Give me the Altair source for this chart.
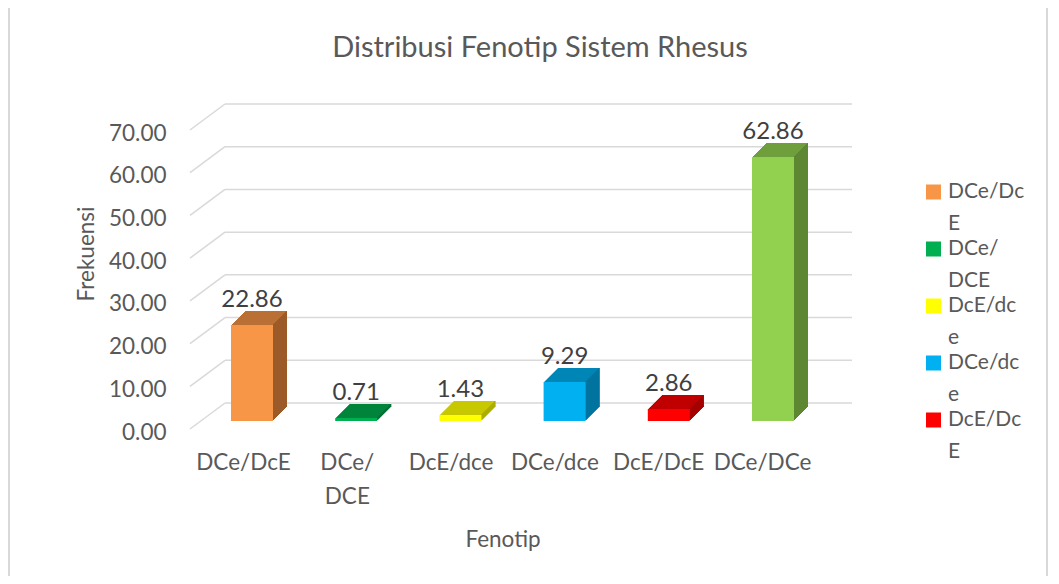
import altair as alt
import pandas as pd

categories = ["DCe/DcE", "DCe/DCE", "DcE/dce", "DCe/dce", "DcE/DcE", "DCe/DCe"]
values = [22.86, 0.71, 1.43, 9.29, 2.86, 62.86]
front_colors = ["#F79646", "#00B050", "#FFFF00", "#00B0F0", "#FF0000", "#92D050"]
top_colors = ["#BA6F35", "#00843C", "#C8C800", "#0086B6", "#C00000", "#6F9E3D"]
side_colors = ["#9C5A28", "#006D32", "#A6A600", "#006F97", "#A00000", "#5E8733"]
axis_labels = ["DCe/DcE", "DCe/\nDCE", "DcE/dce", "DCe/dce", "DcE/DcE", "DCe/DCe"]
legend_labels = ["DCe/Dc\nE", "DCe/\nDCE", "DcE/dc\ne", "DCe/dc\ne", "DcE/Dc\nE"]
y_ticks = [0, 10, 20, 30, 40, 50, 60, 70]

FONT = "Lato"
GREY = "#595959"
FS = 22.5

bars = pd.DataFrame({"cat": categories, "value": values, "front": front_colors,
                     "top": top_colors, "side": side_colors})
grid = pd.DataFrame({"tick": y_ticks})
legend_df = pd.DataFrame({"lab": legend_labels, "color": front_colors[:5]})
axis_df = pd.DataFrame({"lab": axis_labels})

xs = alt.Scale(domain=categories, range=[9.9, 635.1], paddingInner=0, paddingOuter=0)
ys = alt.Scale(domain=[0, 70], range=[317, 23], nice=False, zero=True)     # front plane (bars)
gs = alt.Scale(domain=[0, 70], range=[299, 0], nice=False, zero=True)      # back wall (grid)

X = alt.X("cat:N", scale=xs, axis=None)
Y = alt.Y("value:Q", scale=ys, axis=None)

layers = []

# outer frame
frame = alt.Chart(pd.DataFrame({"a": [0]})).mark_rect(
    fillOpacity=0, stroke="#D9D9D9", strokeWidth=2
).encode(x=alt.value(-181), x2=alt.value(857), y=alt.value(-97), y2=alt.value(496))
layers.append(frame)

# back gridlines
hgrid = alt.Chart(grid).mark_rule(color="#D9D9D9", strokeWidth=1.5).encode(
    x=alt.value(35), x2=alt.value(662),
    y=alt.Y("tick:Q", scale=gs, axis=None),
)
layers.append(hgrid)

# diagonal side-wall lines, carrying the value axis
dgrid = alt.Chart(grid).mark_rule(color="#D9D9D9", strokeWidth=1.5, yOffset=26).encode(
    x=alt.value(0), x2=alt.value(35),
    y=alt.Y("tick:Q", scale=gs, axis=alt.Axis(
        values=y_ticks, format=".2f", labelOffset=29, labelPadding=24, domain=False,
        ticks=False, grid=False, labelFontSize=FS, labelColor=GREY, labelFont=FONT,
        title="Frekuensi", titleFontSize=FS, titleFontWeight="normal", titleColor=GREY,
        titleFont=FONT, titlePadding=10)),
    y2="tick:Q",
)
layers.append(dgrid)

DEPTH = 14
HALF = 21
# extrusion (top face colour)
for i in range(DEPTH, 0, -1):
    layers.append(alt.Chart(bars).mark_bar(width=2 * HALF, xOffset=i, yOffset=-i, y2Offset=-i).encode(
        x=X, y=Y, y2=alt.Y2(datum=0), color=alt.Color("top:N", scale=None)))
# side face
for j in range(1, DEPTH + 1):
    layers.append(alt.Chart(bars).mark_bar(width=1, xOffset=HALF + j - 0.5, yOffset=-j, y2Offset=-j).encode(
        x=X, y=Y, y2=alt.Y2(datum=0), color=alt.Color("side:N", scale=None)))
# front face
layers.append(alt.Chart(bars).mark_bar(width=2 * HALF).encode(
    x=X, y=Y, y2=alt.Y2(datum=0), color=alt.Color("front:N", scale=None)))

# value labels
layers.append(alt.Chart(bars).mark_text(
    dy=-18, baseline="alphabetic", fontSize=24, font=FONT, color="#404040"
).encode(x=X, y=Y, text=alt.Text("value:Q", format=".2f")))

# category axis
layers.append(alt.Chart(axis_df).mark_point(opacity=0).encode(
    x=alt.X("lab:N", sort=axis_labels,
            scale=alt.Scale(type="point", domain=axis_labels, range=[53, 572], padding=0),
            axis=alt.Axis(orient="bottom", labelExpr="split(datum.label, '\\n')",
                          labelLineHeight=34, labelPadding=21, labelAngle=0,
                          domain=False, ticks=False, grid=False,
                          labelFontSize=FS, labelColor=GREY, labelFont=FONT,
                          title="Fenotip", titleFontSize=FS, titleFontWeight="normal",
                          titleColor=GREY, titleFont=FONT, titlePadding=21)),
    y=alt.value(0),
))

# legend
LY = alt.Y("lab:N", scale=alt.Scale(type="point", domain=legend_labels, range=[88, 316], padding=0), axis=None)
layers.append(alt.Chart(legend_df).mark_square(size=225, opacity=1).encode(
    x=alt.value(743.5), y=LY, color=alt.Color("color:N", scale=None)))
layers.append(alt.Chart(legend_df).mark_text(
    align="left", baseline="middle", lineBreak="\n", lineHeight=32,
    fontSize=21, font=FONT, color=GREY
).encode(x=alt.value(758), y=LY, text="lab:N"))

chart = alt.layer(*layers).resolve_scale(x="independent", y="independent").properties(
    width=662, height=326,
    autosize="none",
    padding={"left": 182, "top": 96, "right": 199, "bottom": 146},
    title=alt.Title("Distribusi Fenotip Sistem Rhesus", fontSize=29, font=FONT,
                    fontWeight="normal", color=GREY, anchor="middle", frame="group",
                    dx=19, offset=-57),
).configure_view(stroke=None, strokeWidth=0)

chart.save("out.html", embed_options={"renderer": "svg", "actions": False})
